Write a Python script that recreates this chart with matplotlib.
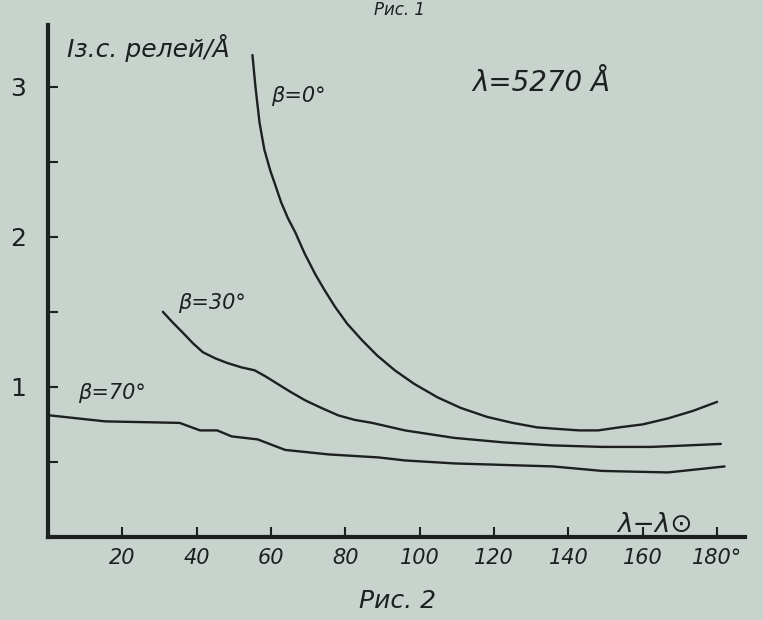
import matplotlib
matplotlib.use("Agg")
import matplotlib.pyplot as plt
import numpy as np

# curves (x: degrees, y: I in relative units)
x_b0 = [55, 55.8, 56.9, 58.2, 59.8, 61.2, 62.7, 64.6, 66.5, 69.0, 71.9, 74.5, 77.3, 80.5, 84.5, 88.5,
        93.3, 98.5, 104.8, 111.0, 118.1, 125.0, 131.6, 137.0, 142.9, 148.0, 153.6, 160.0, 166.8, 173.5, 180]
y_b0 = [3.21, 3.00, 2.76, 2.58, 2.44, 2.34, 2.23, 2.12, 2.03, 1.89, 1.75, 1.64, 1.53, 1.42, 1.31, 1.21,
        1.11, 1.02, 0.93, 0.86, 0.80, 0.76, 0.73, 0.72, 0.71, 0.71, 0.73, 0.75, 0.79, 0.84, 0.90]

x_b30 = [30.9, 33.5, 36.3, 39.0, 41.7, 45.0, 48.1, 52.0, 55.6, 58.5, 61.1, 65.0, 69.2, 73.5, 78.1,
         82.5, 87.2, 96.0, 109.3, 122.6, 135.8, 149.1, 162.4, 172.0, 181]
y_b30 = [1.50, 1.43, 1.36, 1.29, 1.23, 1.19, 1.16, 1.13, 1.11, 1.07, 1.03, 0.97, 0.91, 0.86, 0.81,
         0.78, 0.76, 0.71, 0.66, 0.63, 0.61, 0.60, 0.60, 0.61, 0.62]

x_b70 = [0.5, 15.4, 35.4, 40.9, 45.5, 49.4, 56.4, 63.8, 75.5, 88.9, 96.0, 109.3, 122.6, 135.8, 149.1, 166.8, 182]
y_b70 = [0.81, 0.77, 0.76, 0.71, 0.71, 0.67, 0.65, 0.58, 0.55, 0.53, 0.51, 0.49, 0.48, 0.47, 0.44, 0.43, 0.47]

x_ticks = [20, 40, 60, 80, 100, 120, 140, 160, 180]
x_tick_labels = ["20", "40", "60", "80", "100", "120", "140", "160", "180°"]
y_ticks = [0.5, 1, 1.5, 2, 2.5, 3]
y_tick_labels = ["", "1", "", "2", "", "3"]

bg = "#c9d3ce"
ink = "#1c201e"

plt.rcParams["font.family"] = ["DejaVu Sans"]
fig = plt.figure(figsize=(7.63, 6.2), dpi=100, facecolor=bg)
ax = fig.add_axes([48 / 763, 83 / 620, 697 / 763, 512 / 620])
ax.set_facecolor(bg)

for xs, ys in [(x_b0, y_b0), (x_b30, y_b30), (x_b70, y_b70)]:
    ax.plot(xs, ys, color=ink, lw=1.7, solid_capstyle="round", solid_joinstyle="round")

ax.set_xlim(0, 187.5)
ax.set_ylim(0, 3.41)
for side in ["top", "right"]:
    ax.spines[side].set_visible(False)
for side in ["left", "bottom"]:
    ax.spines[side].set_linewidth(3)
    ax.spines[side].set_color(ink)

ax.set_xticks(x_ticks)
ax.set_xticklabels(x_tick_labels, fontsize=15, style="italic", color=ink)
ax.set_yticks(y_ticks)
ax.set_yticklabels(y_tick_labels, fontsize=18, color=ink)
ax.tick_params(axis="x", direction="in", length=7, width=1.5, pad=8, colors=ink)
ax.tick_params(axis="y", direction="in", length=7, width=1.5, pad=16, colors=ink)

txt = dict(color=ink, style="italic")
ax.text(60, 2.9, "β=0°", fontsize=15, **txt)
ax.text(35, 1.52, "β=30°", fontsize=15, **txt)
ax.text(8, 0.92, "β=70°", fontsize=15, **txt)
ax.text(114, 2.97, "λ=5270 Å", fontsize=20, **txt)
ax.text(153, 0.03, "λ−λ⊙", fontsize=19, **txt)
ax.text(5, 3.2, "Iз.с. релей/Å", fontsize=18, clip_on=False, **txt)

fig.text(0.47, 0.02, "Рис. 2", fontsize=18, **txt)
fig.text(0.49, 0.998, "Рис. 1", fontsize=12, va="top", **txt)

fig.savefig("out.png", dpi=100, facecolor=bg)
